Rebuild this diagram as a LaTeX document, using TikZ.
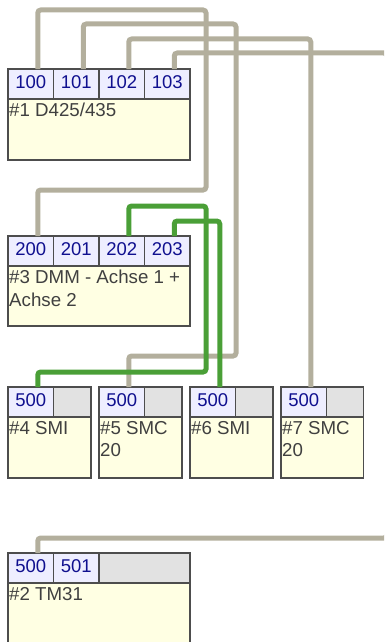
\documentclass[tikz,border=0pt]{standalone}
\usepackage{fontspec}
\setmainfont{Liberation Sans}
\usetikzlibrary{positioning}
\definecolor{wiregray}{HTML}{B3AF9D}
\definecolor{wiregreen}{HTML}{4A9F37}
\definecolor{portfill}{HTML}{EEEEFF}
\definecolor{emptyfill}{HTML}{E2E2E2}
\definecolor{bodyfill}{HTML}{FFFFE3}
\definecolor{boxline}{HTML}{4D4D4D}
\definecolor{portblue}{HTML}{10108F}
\definecolor{nametext}{HTML}{404040}
\tikzset{
  portcell/.style={draw=boxline,fill=portfill,line width=1.5pt,anchor=north west,inner sep=0pt,outer sep=0pt,
    minimum width=45.5pt,minimum height=30pt,text depth=4pt,text=portblue,font=\fontsize{18.5}{18.5}\selectfont},
  emptycell/.style={draw=boxline,fill=emptyfill,line width=1.5pt,anchor=north west,inner sep=0pt,outer sep=0pt,
    minimum height=30pt},
  devbody/.style={draw=boxline,fill=bodyfill,line width=1.5pt,anchor=north west,inner sep=0pt,outer sep=0pt},
  devname/.style={anchor=north west,inner sep=0pt,align=left,text=nametext,font=\fontsize{18.7}{22.5}\selectfont,
    execute at begin node=\rule{0pt}{13.4pt}},
  wire/.style={line width=5pt,draw=wiregray,rounded corners=3pt},
  greenwire/.style={wire,draw=wiregreen}
}

\begin{document}
\begin{tikzpicture}[x=1pt,y=-1pt]
  \useasboundingbox (0,0) rectangle (384,642);
  \clip (0,0) rectangle (384,642);

  % #1 D425/435
  \node[portcell] (p100) at (8,69) {100};
  \node[portcell,right=0pt of p100] (p101) {101};
  \node[portcell,right=0pt of p101] (p102) {102};
  \node[portcell,right=0pt of p102] (p103) {103};
  \node[devbody,minimum width=182pt,minimum height=61pt] (dev1) at (p100.south west) {};
  \node[devname] (dev1name) at ([shift={(1,4)}]dev1.north west) {\#1 D425/435};

  % #3 DMM
  \node[portcell] (p200) at (8,236) {200};
  \node[portcell,right=0pt of p200] (p201) {201};
  \node[portcell,right=0pt of p201] (p202) {202};
  \node[portcell,right=0pt of p202] (p203) {203};
  \node[devbody,minimum width=182pt,minimum height=60pt] (dev3) at (p200.south west) {};
  \node[devname] (dev3name) at ([shift={(1,4)}]dev3.north west) {\#3 DMM - Achse 1 +\\Achse 2};

  % #4 .. #7
  \node[portcell] (s4p500) at (8,387) {500};
  \node[emptycell,minimum width=37.5pt,right=0pt of s4p500] (s4free) {};
  \node[devbody,minimum width=83pt,minimum height=61pt] (dev4) at (s4p500.south west) {};
  \node[devname] (dev4name) at ([shift={(1,4)}]dev4.north west) {\#4 SMI};

  \node[portcell] (s5p500) at (99,387) {500};
  \node[emptycell,minimum width=37.5pt,right=0pt of s5p500] (s5free) {};
  \node[devbody,minimum width=83pt,minimum height=61pt] (dev5) at (s5p500.south west) {};
  \node[devname] (dev5name) at ([shift={(1,4)}]dev5.north west) {\#5 SMC\\20};

  \node[portcell] (s6p500) at (190,387) {500};
  \node[emptycell,minimum width=37.5pt,right=0pt of s6p500] (s6free) {};
  \node[devbody,minimum width=83pt,minimum height=61pt] (dev6) at (s6p500.south west) {};
  \node[devname] (dev6name) at ([shift={(1,4)}]dev6.north west) {\#6 SMI};

  \node[portcell] (s7p500) at (281,387) {500};
  \node[emptycell,minimum width=37pt,right=0pt of s7p500] (s7free) {};
  \node[devbody,minimum width=82.5pt,minimum height=61pt] (dev7) at (s7p500.south west) {};
  \node[devname] (dev7name) at ([shift={(1,4)}]dev7.north west) {\#7 SMC\\20};

  % #2 TM31
  \node[portcell] (tm500) at (8,553) {500};
  \node[portcell,right=0pt of tm500] (tm501) {501};
  \node[emptycell,minimum width=91pt,right=0pt of tm501] (tmfree) {};
  \node[devbody,minimum width=182pt,minimum height=80pt] (dev2) at (tm500.south west) {};
  \node[devname] (dev2name) at ([shift={(1,4)}]dev2.north west) {\#2 TM31};

  % wires
  \draw[wire] ([xshift=7pt]p100.north) -- ++(0,-59) -| (206,190) -| ([xshift=7pt]p200.north);
  \draw[wire] ([xshift=7pt]p101.north) -- ++(0,-45) -| (236,356) -| ([xshift=7pt]s5p500.north);
  \draw[wire] ([xshift=7pt]p102.north) -- ++(0,-30) -| ([xshift=7pt]s7p500.north);
  \draw[wire] ([xshift=7pt]p103.north) -- ++(0,-16) -| (386.8,538) -| ([xshift=7pt]tm500.north);
  \draw[greenwire] ([xshift=7pt]p202.north) -- ++(0,-30) -| (206,372) -| ([xshift=7pt]s4p500.north);
  \draw[greenwire] ([xshift=7pt]p203.north) -- ++(0,-15) -| ([xshift=7pt]s6p500.north);
\end{tikzpicture}
\end{document}
